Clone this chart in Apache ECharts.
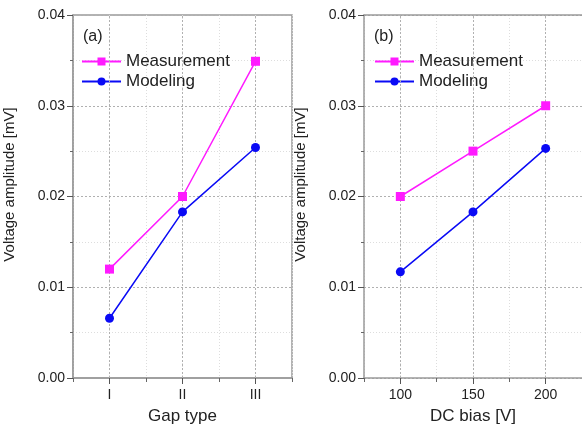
<!DOCTYPE html>
<html><head><meta charset="utf-8">
<script src="https://cdn.jsdelivr.net/npm/echarts@6/dist/echarts.min.js"></script>
<style>html,body{margin:0;padding:0;background:#fff}#c{width:582px;height:430px}</style>
</head><body><div id="c"></div>
<script>
const gapTypes = ['I', 'II', 'III'];
const gapPos = [1, 2, 3];
const measA = [0.0120, 0.0200, 0.0349];
const modelA = [0.00658, 0.0183, 0.0254];
const dcBias = [100, 150, 200];
const measB = [0.0200, 0.0250, 0.0300];
const modelB = [0.0117, 0.0183, 0.0253];
const yTicks = [0, 0.01, 0.02, 0.03, 0.04];

const FONT = 'Liberation Sans, Arial, sans-serif';
const TXT = '#222';
const AX = '#9a9a9a';
const MAG = '#ff1aff';
const BLU = '#0a0af5';

const chart = echarts.init(document.getElementById('c'));

function grid(left, border){ return {left:left, top:15, width:219, height:363, show:border, borderColor:AX, borderWidth:1.5, backgroundColor:'transparent'}; }

function minorX(gi, min, max, step){
  return {type:'value', gridIndex:gi, min:min, max:max, interval:step, position:'bottom',
    axisLine:{show:true, lineStyle:{color:AX, width:1.5}},
    axisTick:{show:true, length:4, lineStyle:{color:'#666'}},
    axisLabel:{show:false},
    splitLine:{show:true, lineStyle:{color:'#ddd', type:[1,2], width:1}}};
}
function topX(gi, min, max){
  return {type:'value', gridIndex:gi, min:min, max:max, position:'top',
    axisLine:{show:true, lineStyle:{color:AX, width:1.5}},
    axisTick:{show:false}, axisLabel:{show:false}, splitLine:{show:false}};
}
function majorX(gi, min, max, vals, fmt, name){
  return {type:'value', gridIndex:gi, min:min, max:max, position:'bottom',
    name:name, nameLocation:'middle', nameGap:30,
    nameTextStyle:{fontFamily:FONT, fontSize:17, color:TXT},
    axisLine:{show:false},
    axisTick:{show:true, length:6, customValues:vals, lineStyle:{color:'#555'}},
    axisLabel:{show:true, customValues:vals, formatter:fmt, fontFamily:FONT, fontSize:14, color:TXT, margin:10},
    splitLine:{show:false}};
}
function yAx(gi){
  return {type:'value', gridIndex:gi, min:yTicks[0], max:yTicks[yTicks.length-1], interval:0.01,
    name:'Voltage amplitude [mV]', nameLocation:'middle', nameGap:56,
    nameTextStyle:{fontFamily:FONT, fontSize:15, color:TXT, padding:[0,0,0,24]},
    axisLine:{show:true, lineStyle:{color:AX, width:1.5}},
    axisTick:{show:true, length:6, lineStyle:{color:'#555'}},
    minorTick:{show:true, splitNumber:2, length:3, lineStyle:{color:'#666'}},
    minorSplitLine:{show:true, lineStyle:{color:'#ddd', type:[1,2], width:1}},
    axisLabel:{formatter:v=>v.toFixed(2), fontFamily:FONT, fontSize:14, color:TXT, margin:8},
    splitLine:{show:true, lineStyle:{color:'#b0b0b0', type:[2,2], width:1}}};
}

function vLines(vals){
  return {silent:true, symbol:'none', label:{show:false},
    lineStyle:{color:'#b0b0b0', type:[2,2], width:1},
    data:vals.map(v=>({xAxis:v}))};
}

function mkSeries(name, xs, ys, xi, yi, color, sym, size, ml){
  const s = {name:name, type:'line', xAxisIndex:xi, yAxisIndex:yi,
    data:xs.map((x,i)=>[x, ys[i]]), symbol:sym, symbolSize:size, showSymbol:true,
    itemStyle:{color:color}, lineStyle:{color:color, width:1.5}, z:5};
  if(ml) s.markLine = ml;
  return s;
}

function legend(left, top){
  return {left:left, top:top, padding:0, orient:'vertical', itemWidth:39, itemHeight:10, itemGap:3,
    textStyle:{fontFamily:FONT, fontSize:17, color:TXT}, data:['Measurement','Modeling']};
}

chart.setOption({
  animation:false,
  textStyle:{fontFamily:FONT},
  title:[
    {text:'(a)', left:78, top:24, textStyle:{fontFamily:FONT, fontSize:16, fontWeight:'normal', color:TXT}},
    {text:'(b)', left:369, top:24, textStyle:{fontFamily:FONT, fontSize:16, fontWeight:'normal', color:TXT}}
  ],
  legend:[legend(81, 53), legend(374, 53)],
  grid:[grid(73, true), grid(364, false)],
  xAxis:[
    minorX(0, 0.5, 3.5, 0.5),
    majorX(0, 0.5, 3.5, gapPos, v=>gapTypes[gapPos.indexOf(v)] || '', 'Gap type'),
    minorX(1, 75, 225, 25),
    majorX(1, 75, 225, dcBias, v=>String(v), 'DC bias [V]'),
    topX(1, 75, 225)
  ],
  yAxis:[yAx(0), yAx(1)],
  series:[
    mkSeries('Measurement', gapPos, measA, 1, 0, MAG, 'rect', 9, vLines(gapPos)),
    mkSeries('Modeling', gapPos, modelA, 1, 0, BLU, 'circle', 9),
    mkSeries('Measurement', dcBias, measB, 3, 1, MAG, 'rect', 9, vLines(dcBias)),
    mkSeries('Modeling', dcBias, modelB, 3, 1, BLU, 'circle', 9)
  ]
});
</script></body></html>
